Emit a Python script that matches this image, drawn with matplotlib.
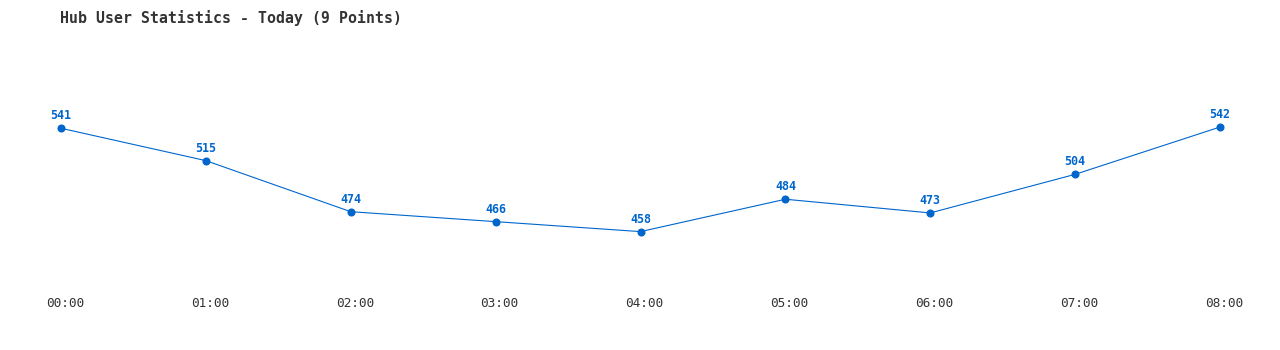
import matplotlib
matplotlib.use("Agg")
import matplotlib.pyplot as plt
import matplotlib.transforms as mtransforms

hours = ["00:00", "01:00", "02:00", "03:00", "04:00", "05:00", "06:00", "07:00", "08:00"]
users = [541, 515, 474, 466, 458, 484, 473, 504, 542]
title = "Hub User Statistics - Today (9 Points)"

W, H = 1280, 350
fig = plt.figure(figsize=(W / 100, H / 100), dpi=100)
fig.patch.set_facecolor("white")

left_px, right_px = 61, 1220
top_px, bot_px = 40, 290
ax = fig.add_axes([left_px / W, 1 - bot_px / H, (right_px - left_px) / W, (bot_px - top_px) / H])

blue = "#0066CC"
xs = list(range(len(users)))
ax.plot(xs, users, color=blue, lw=0.8, marker="o", ms=4.8, clip_on=False, zorder=3)
for x, v in zip(xs, users):
    ax.annotate(str(v), (x, v), xytext=(0, 9), textcoords="offset points",
                ha="center", va="center", color=blue, fontsize=8.4,
                fontweight="bold", family="DejaVu Sans Mono")

ax.set_xlim(0, 8)
ax.set_ylim(411.1, 611.9)
ax.set_yticks([])
ax.set_xticks(xs)
ax.set_xticklabels(hours, family="DejaVu Sans Mono", fontsize=9.2, color="#333333")
ax.tick_params(axis="x", length=0, pad=5)
offset = mtransforms.ScaledTranslation(4 / 100, 0, fig.dpi_scale_trans)
for lbl in ax.get_xticklabels():
    lbl.set_transform(lbl.get_transform() + offset)
for s in ax.spines.values():
    s.set_visible(False)
ax.patch.set_alpha(0)

fig.text(60 / W, 1 - 18 / H, title, ha="left", va="center", fontsize=10.7,
         family="DejaVu Sans Mono", fontweight="bold", color="#333333")

fig.savefig("out.png", dpi=100, facecolor="white")
